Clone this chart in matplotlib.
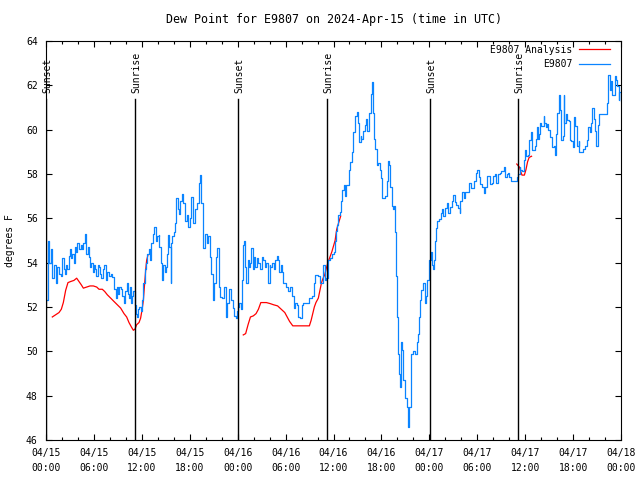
import numpy as np
import matplotlib
matplotlib.use("Agg")
import matplotlib.pyplot as plt

plt.rcParams['font.family'] = ['DejaVu Sans Mono']
plt.rcParams['font.size'] = 7

# hours since 2024-04-15 00:00 UTC
blue_hours = [0.10, 0.20, 0.30, 0.40, 0.58, 0.79, 1.00, 1.21, 1.42, 1.63, 1.84, 2.05, 2.20, 2.34, 2.50, 2.67, 2.85,
              3.00, 3.15, 3.30, 3.45, 3.59, 3.75, 3.92, 4.10, 4.34, 4.50, 4.68, 4.88, 5.05, 5.20, 5.38, 5.55, 5.68,
              5.85, 6.01, 6.15, 6.30, 6.45, 6.64, 6.80, 6.93, 7.10, 7.26, 7.47, 7.65, 7.89, 8.10, 8.31, 8.51, 8.72,
              8.90, 9.02, 9.20, 9.35, 9.55, 9.77, 9.95, 10.10, 10.25, 10.39, 10.55, 10.69, 10.80, 10.94, 11.10,
              11.23, 11.44, 11.55, 11.65, 11.85, 12.06, 12.20, 12.35, 12.48, 12.60, 12.69, 12.85, 13.02, 13.19,
              13.35, 13.52, 13.73, 13.94, 14.10, 14.20, 14.36, 14.50, 14.57, 14.70, 14.85, 14.99, 15.10, 15.19,
              15.30, 15.45, 15.61, 15.70, 15.82, 16.00, 16.20, 16.30, 16.50, 16.60, 16.80, 17.00, 17.20, 17.40,
              17.60, 17.80, 18.00, 18.20, 18.40, 18.60, 18.90, 19.10, 19.20, 19.30, 19.40, 19.60, 19.70, 19.90,
              20.10, 20.30, 20.50, 20.70, 20.90, 21.00, 21.30, 21.40, 21.60, 21.80, 22.10, 22.30, 22.50, 22.70,
              22.90, 23.20, 23.40, 23.60, 23.80, 23.96, 24.10, 24.20, 24.40, 24.60, 24.70, 24.80, 24.96, 25.10,
              25.25, 25.40, 25.50, 25.70, 25.90, 26.00, 26.20, 26.40, 26.60, 26.80, 27.00, 27.20, 27.40, 27.60,
              27.80, 28.00, 28.10, 28.30, 28.50, 28.70, 28.90, 29.10, 29.20, 29.40, 29.50, 29.70, 29.90, 30.10,
              30.30, 30.50, 30.80, 31.00, 31.20, 31.40, 31.60, 31.80, 32.00, 32.20, 32.60, 32.90, 33.30, 33.50,
              33.70, 34.10, 34.30, 34.50, 34.70, 34.90, 35.10, 35.35, 35.60, 35.80, 36.00, 36.20, 36.30, 36.50,
              36.60, 36.80, 37.00, 37.10, 37.30, 37.40, 37.60, 37.90, 38.10, 38.30, 38.50, 38.70, 38.90, 39.10,
              39.20, 39.40, 39.50, 39.70, 39.90, 40.10, 40.20, 40.40, 40.50, 40.70, 40.80, 40.90, 41.10, 41.20,
              41.40, 41.50, 41.60, 41.80, 42.00, 42.10, 42.30, 42.50, 42.70, 42.80, 43.00, 43.10, 43.30, 43.50,
              43.60, 43.70, 43.80, 43.90, 44.10, 44.20, 44.30, 44.40, 44.50, 44.60, 44.70, 44.90, 45.10, 45.20,
              45.30, 45.40, 45.70, 45.90, 46.20, 46.40, 46.60, 46.70, 46.80, 47.00, 47.20, 47.40, 47.60, 47.75,
              47.90, 48.00, 48.20, 48.30, 48.40, 48.60, 48.70, 48.80, 48.90, 49.20, 49.40, 49.60, 49.70, 49.90,
              50.20, 50.40, 50.60, 50.80, 51.00, 51.20, 51.40, 51.60, 51.80, 51.90, 52.10, 52.30, 52.50, 52.80,
              53.00, 53.20, 53.40, 53.60, 53.80, 54.00, 54.20, 54.40, 54.60, 54.80, 55.00, 55.20, 55.40, 55.60,
              55.80, 56.00, 56.20, 56.40, 56.60, 56.80, 57.00, 57.30, 57.50, 57.70, 57.90, 58.00, 58.20, 58.50,
              58.90, 59.00, 59.10, 59.30, 59.40, 59.60, 59.70, 59.90, 60.00, 60.10, 60.30, 60.50, 60.70, 60.80,
              60.90, 61.20, 61.30, 61.50, 61.60, 61.70, 61.90, 62.00, 62.30, 62.40, 62.60, 62.70, 62.90, 63.10,
              63.30, 63.40, 63.60, 63.70, 63.90, 64.00, 64.20, 64.30, 64.50, 64.70, 64.80, 64.90, 65.10, 65.30,
              65.50, 65.60, 65.80, 66.00, 66.10, 66.30, 66.50, 66.70, 66.80, 67.00, 67.20, 67.30, 67.50, 67.70,
              67.90, 68.10, 68.30, 68.40, 68.60, 68.70, 68.90, 69.10, 69.20, 69.30, 69.70, 70.20, 70.30, 70.40,
              70.60, 70.70, 70.90, 71.10, 71.20, 71.40, 71.50, 71.70, 71.80, 72.00]
blue_vals = [52.3, 54.0, 55.0, 54.0, 54.6, 53.3, 53.9, 53.1, 53.8, 53.5, 53.4, 54.2, 53.7, 53.5, 53.9, 53.7, 54.3,
             54.6, 54.2, 54.4, 54.0, 54.7, 54.5, 54.9, 54.6, 54.8, 54.6, 54.9, 55.3, 54.4, 54.7, 54.25, 53.8, 54.0,
             53.6, 53.9, 53.7, 53.4, 53.9, 53.8, 53.5, 53.3, 53.7, 53.9, 53.2, 53.6, 53.4, 53.5, 53.35, 52.8, 52.4,
             52.9, 52.6, 52.9, 52.8, 52.5, 52.2, 52.7, 53.1, 52.6, 52.4, 52.9, 52.2, 52.5, 52.7, 52.1,
             51.7, 51.55, 51.9, 52.0, 51.8, 52.3, 53.1, 53.7, 54.0, 54.2, 54.4, 54.6, 54.1, 54.9,
             55.3, 55.6, 55.0, 55.2, 55.25, 54.7, 54.0, 53.45, 53.2, 53.9, 53.6, 53.8, 54.1, 54.4,
             55.25, 54.7, 53.1, 54.9, 55.2, 55.4, 55.8, 56.9, 56.4, 56.2, 56.8, 57.1, 56.7, 55.9,
             56.15, 55.6, 56.0, 56.95, 55.8, 56.4, 56.7, 57.1, 57.6, 57.95, 56.7, 55.25, 54.65, 55.3,
             54.9, 55.2, 54.25, 53.5, 52.3, 53.1, 54.25, 54.65, 52.9, 52.45, 52.4, 52.9, 51.55, 52.2,
             52.8, 52.3, 51.95, 51.6, 51.5, 51.8, 52.0, 52.2, 51.9, 53.2, 54.8, 55.0, 53.8, 53.1,
             54.1, 53.8, 54.0, 54.65, 53.7, 54.25, 53.8, 54.2, 54.0, 53.7, 54.25, 54.1, 53.8, 54.0,
             53.1, 53.9, 53.8, 54.0, 53.7, 54.1, 54.3, 54.1, 53.6, 53.9, 53.6, 53.1, 53.1, 52.9,
             52.7, 52.9, 52.5, 51.95, 52.2, 52.1, 51.55, 51.5, 52.1, 52.2, 52.2, 52.4, 52.5, 53.1,
             53.45, 53.4, 53.1, 53.1, 53.9, 53.2, 53.3, 54.1, 54.2, 54.4, 54.5, 55.0, 55.45, 55.7,
             56.15, 56.3, 56.8, 57.3, 57.5, 57.0, 57.5, 58.2, 58.55, 59.0, 59.9, 60.6, 60.8, 60.3,
             59.45, 59.7, 59.6, 59.95, 60.2, 60.5, 59.95, 60.1, 60.75, 61.6, 62.15, 60.75, 59.6, 59.15,
             58.6, 58.4, 58.5, 58.2, 57.8, 56.9, 56.9, 57.0, 57.7, 58.6, 58.4, 57.4, 56.55, 56.4,
             56.55, 55.4, 53.4, 51.55, 49.9, 49.0, 48.4, 48.85, 50.4, 50.05, 48.7, 47.9, 47.9, 47.5,
             46.6, 47.5, 49.9, 50.0, 49.9, 50.4, 50.8, 51.55, 52.3, 52.75, 53.1, 52.2, 52.5, 53.2,
             53.5, 54.1, 54.5, 53.9, 53.7, 54.1, 55.0, 55.55, 55.9, 55.95, 56.25, 56.4, 56.1, 56.45,
             56.7, 56.25, 56.5, 56.8, 57.05, 56.75, 56.6, 56.45, 56.25, 56.8, 57.2, 56.9, 57.2, 57.2,
             57.6, 57.35, 57.35, 57.7, 58.05, 58.2, 57.85, 57.55, 57.4, 57.15, 57.4, 57.9, 57.9, 57.55,
             57.6, 57.9, 58.0, 57.6, 58.0, 58.05, 58.15, 58.3, 57.85, 58.0, 58.05, 57.85, 57.7, 57.7,
             57.7, 57.85, 58.0, 58.3, 58.2, 58.15, 58.15, 58.65, 59.1, 58.8, 58.85, 59.55, 59.9, 59.6,
             59.1, 59.25, 59.6, 60.1, 59.6, 59.8, 60.3, 60.15, 60.6, 60.3, 60.1, 60.25, 60.0, 59.65,
             59.35, 59.2, 59.25, 58.85, 59.8, 60.75, 61.55, 60.9, 59.55, 59.7, 61.55, 60.3, 60.7, 60.45,
             60.4, 59.55, 59.5, 59.2, 60.55, 60.15, 59.25, 59.5, 59.0, 59.0, 59.1, 59.15, 59.25, 59.55,
             60.1, 59.9, 60.3, 61.0, 60.5, 59.95, 59.25, 60.2, 60.65, 60.7, 60.7, 60.7, 61.2, 62.45,
             61.8, 62.2, 61.55, 61.55, 62.4, 62.25, 61.95, 61.35, 61.7, 61.3]

# analysis series, three separate pieces
red_hours_1 = [0.79, 1.21, 1.63, 1.92, 2.17, 2.46, 2.75, 3.09, 3.50, 3.84, 4.13, 4.42, 4.68, 5.09, 5.51, 5.93,
               6.35, 6.64, 7.05, 7.35, 7.68, 8.10, 8.51, 8.93, 9.35, 9.77, 10.10, 10.39, 10.69, 10.94, 11.14,
               11.35, 11.65, 11.85, 12.06, 12.19, 12.36, 12.48, 12.60, 12.77]
red_vals_1 = [51.55, 51.65, 51.75, 51.9, 52.2, 52.75, 53.1, 53.15, 53.2, 53.3, 53.15, 53.0, 52.85, 52.9, 52.95,
              52.95, 52.9, 52.8, 52.8, 52.7, 52.55, 52.4, 52.25, 52.1, 51.95, 51.7, 51.55, 51.3, 51.1, 50.95, 51.0,
              51.2, 51.3, 51.5, 51.95, 52.3, 53.1, 53.65, 54.1, 54.35]
red_hours_2 = [24.70, 25.00, 25.30, 25.60, 25.96, 26.30, 26.60, 26.90, 27.20, 27.60, 28.10, 28.50, 29.00, 29.30,
               29.60, 29.90, 30.20, 30.50, 30.90, 31.40, 32.00, 32.60, 32.98, 33.20, 33.40, 33.60, 33.80, 34.10,
               34.30, 34.50, 34.70, 34.90, 35.10, 35.35, 35.60, 35.80, 36.20, 36.40, 36.60, 36.90]
red_vals_2 = [50.74, 50.8, 51.2, 51.55, 51.6, 51.7, 51.9, 52.2, 52.2, 52.2, 52.15, 52.1, 52.05, 51.95, 51.85,
              51.75, 51.55, 51.35, 51.15, 51.15, 51.15, 51.15, 51.15, 51.4, 51.7, 52.0, 52.2, 52.4, 52.75, 53.1,
              53.3, 53.45, 53.75, 54.05, 54.3, 54.5, 55.0, 55.5, 55.75, 56.1]
red_hours_3 = [58.95, 59.30, 59.50, 59.60, 59.90, 60.10, 60.30, 60.50, 60.80]
red_vals_3 = [58.45, 58.3, 58.05, 57.95, 57.95, 58.2, 58.55, 58.75, 58.8]

sun_hours = [0.05, 11.13, 24.07, 35.17, 48.07, 59.1]
sun_labels = ["Sunset", "Sunrise", "Sunset", "Sunrise", "Sunset", "Sunrise"]

tick_hours = list(range(0, 73, 6))
tick_labels = ["04/15\n00:00", "04/15\n06:00", "04/15\n12:00", "04/15\n18:00",
               "04/16\n00:00", "04/16\n06:00", "04/16\n12:00", "04/16\n18:00",
               "04/17\n00:00", "04/17\n06:00", "04/17\n12:00", "04/17\n18:00",
               "04/18\n00:00"]

fig = plt.figure(figsize=(6.4, 4.8), dpi=100)
ax = fig.add_axes([46 / 640, 40 / 480, 575 / 640, 399 / 480])

red = "#ff0000"
blue = "#0a84ff"
ax.plot(red_hours_1, red_vals_1, color=red, lw=0.9, label="E9807 Analysis")
ax.plot(red_hours_2, red_vals_2, color=red, lw=0.9)
ax.plot(red_hours_3, red_vals_3, color=red, lw=0.9)
ax.plot(blue_hours, blue_vals, color=blue, lw=0.9, drawstyle="steps-post", label="E9807")

for h, lab in zip(sun_hours, sun_labels):
    ax.plot([h, h], [46, 61.4], color="black", lw=1.0)
    ax.text(h + 0.15, 61.65, lab, rotation=90, ha="center", va="bottom")

ax.set_xlim(0, 72)
ax.set_ylim(46, 64)
ax.set_xticks(tick_hours)
ax.set_xticklabels(tick_labels, linespacing=1.6)
ax.set_xticks(np.arange(0, 73, 2), minor=True)
ax.set_yticks(np.arange(46, 65, 2))
ax.tick_params(which="both", direction="in", top=True, right=True, width=0.8)
ax.tick_params(which="major", length=4, pad=6)
ax.tick_params(which="minor", length=2)
for s in ax.spines.values():
    s.set_linewidth(0.8)

ax.set_title("Dew Point for E9807 on 2024-Apr-15 (time in UTC)", pad=13)
ax.set_ylabel("degrees F", labelpad=8)

ax.legend(loc="upper right", bbox_to_anchor=(0.988, 1.0), frameon=False, markerfirst=False,
          handlelength=3.2, handletextpad=0.7, borderaxespad=0, labelspacing=0.45)

fig.savefig("out.png", dpi=100)
